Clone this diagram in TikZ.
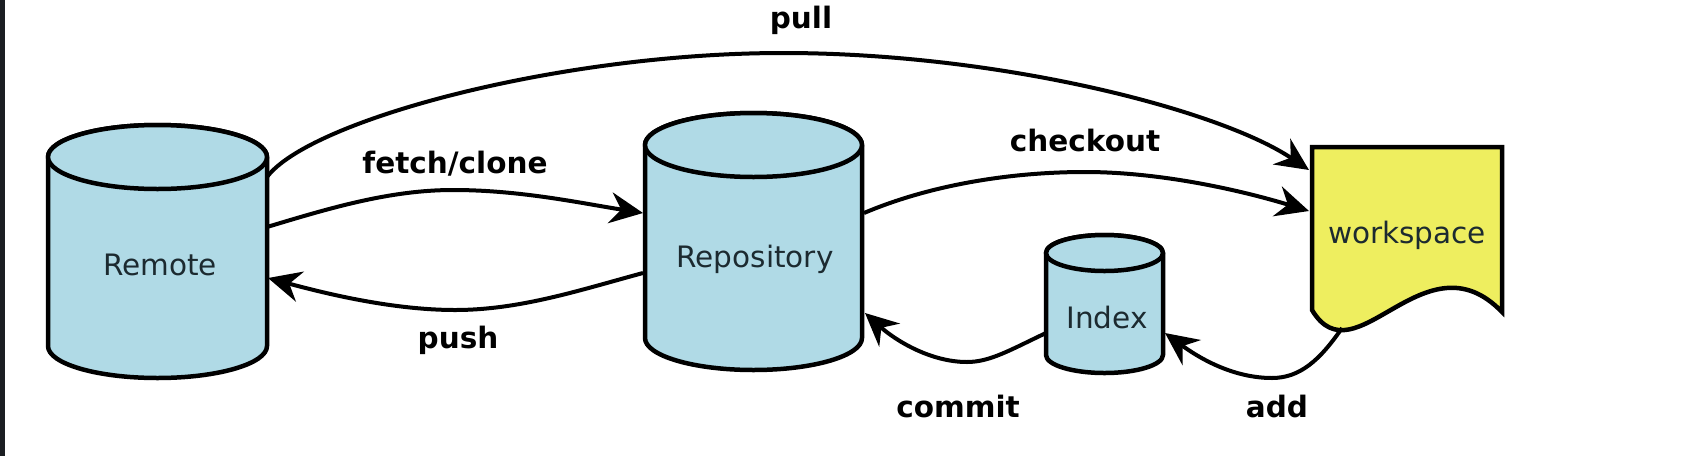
\documentclass[tikz,border=0pt]{standalone}
\usepackage{fontspec}
\setmainfont{DejaVu Sans}
\usetikzlibrary{arrows.meta,calc}
\definecolor{cylblue}{HTML}{B0DAE6}
\definecolor{wsyellow}{HTML}{EEEE5F}
\definecolor{txtdark}{HTML}{1C2A30}
\definecolor{darkbar}{HTML}{1B1E22}
\tikzset{
  db/.style={fill=cylblue, draw=black, line width=4.5pt, line join=round},
  wsshape/.style={fill=wsyellow, draw=black, line width=4.5pt, line join=miter},
  hit/.style={inner sep=0pt, outer sep=0pt, draw=none},
  dbtext/.style={font=\fontsize{29.5}{35}\selectfont, text=txtdark, inner sep=0pt},
  lbl/.style={font=\fontsize{29.5}{35}\selectfont\bfseries, text=black, inner sep=0pt},
  conn/.style={line width=4pt, draw=black, -{Stealth[length=33pt,width=31pt,inset=11pt]}}
}
\begin{document}
\begin{tikzpicture}[x=1pt,y=1pt]
\useasboundingbox (0,0) rectangle (1698,-456);
\fill[white] (0,0) rectangle (1698,-456);
\fill[darkbar] (0,0) rectangle (5,-456);

% Remote cylinder
\path[db] (48,-157) -- (48,-346) arc[start angle=180, end angle=360, x radius=109.5, y radius=32]
  -- (267,-157) arc[start angle=0, end angle=180, x radius=109.5, y radius=32] -- cycle;
\path[db] (157.5,-157) ellipse[x radius=109.5, y radius=32];
\node[hit, minimum width=219pt, minimum height=253pt] (Remote) at (157.5,-251.5) {};
\node[dbtext] (remoteText) at (160,-265) {Remote};

% Repository cylinder
\path[db] (645,-145) -- (645,-338) arc[start angle=180, end angle=360, x radius=108.5, y radius=32]
  -- (862,-145) arc[start angle=0, end angle=180, x radius=108.5, y radius=32] -- cycle;
\path[db] (753.5,-145) ellipse[x radius=108.5, y radius=32];
\node[hit, minimum width=217pt, minimum height=257pt] (Repository) at (753.5,-241.5) {};
\node[dbtext] (repoText) at (755,-259) {Repository};

% Index cylinder
\path[db] (1046,-253) -- (1046,-355) arc[start angle=180, end angle=360, x radius=58.5, y radius=18]
  -- (1163,-253) arc[start angle=0, end angle=180, x radius=58.5, y radius=18] -- cycle;
\path[db] (1104.5,-253) ellipse[x radius=58.5, y radius=18];
\node[hit, minimum width=117pt, minimum height=138pt] (Index) at (1104.5,-304) {};
\node[dbtext] (indexText) at (1107,-317) {Index};

% workspace document
\path[wsshape] (1312,-147) -- (1502,-147) -- (1502,-312)
  .. controls (1425,-232) and (1355,-382) .. (1312,-310) -- cycle;
\node[hit, minimum width=190pt, minimum height=164pt] (Workspace) at (1407,-229) {};
\node[dbtext] (wsText) at (1407,-235) {workspace};

% connectors
\draw[conn] ($(Remote.east)+(0,74.5)$) .. controls (310,-120) and (560,-53) .. (783,-53)
  .. controls (1000,-53) and (1220,-110) .. ($(Workspace.west)+(-3,59)$);
\draw[conn] ($(Remote.east)+(0,24.5)$) .. controls (330,-208) and (390,-190) .. (453,-190)
  .. controls (520,-190) and (580,-203) .. ($(Repository.west)+(-2,28.5)$);
\draw[conn] ($(Repository.west)+(-2,-31.5)$) .. controls (580,-290) and (520,-310) .. (455,-310)
  .. controls (390,-310) and (320,-292) .. ($(Remote.east)+(1,-26.5)$);
\draw[conn] ($(Repository.east)+(2,28.5)$) .. controls (930,-185) and (1010,-172) .. (1085,-172)
  .. controls (1160,-172) and (1240,-190) .. ($(Workspace.west)+(-3,18)$);
\draw[conn] ($(Index.west)+(0,-29)$) .. controls (1010,-350) and (990,-362) .. (967,-362)
  .. controls (930,-362) and (895,-340) .. ($(Repository.east)+(3,-71.5)$);
\draw[conn] ($(Workspace.south west)+(30,-17)$) .. controls (1320,-360) and (1300,-378) .. (1272,-378)
  .. controls (1230,-378) and (1195,-355) .. ($(Index.east)+(2,-29)$);

% labels
\node[lbl] (pullLbl) at (801,-20) {pull};
\node[lbl] (fetchLbl) at (455,-164) {fetch/clone};
\node[lbl] (pushLbl) at (458,-340) {push};
\node[lbl] (checkoutLbl) at (1085,-140) {checkout};
\node[lbl] (commitLbl) at (958,-406) {commit};
\node[lbl] (addLbl) at (1277,-406) {add};
\end{tikzpicture}
\end{document}
